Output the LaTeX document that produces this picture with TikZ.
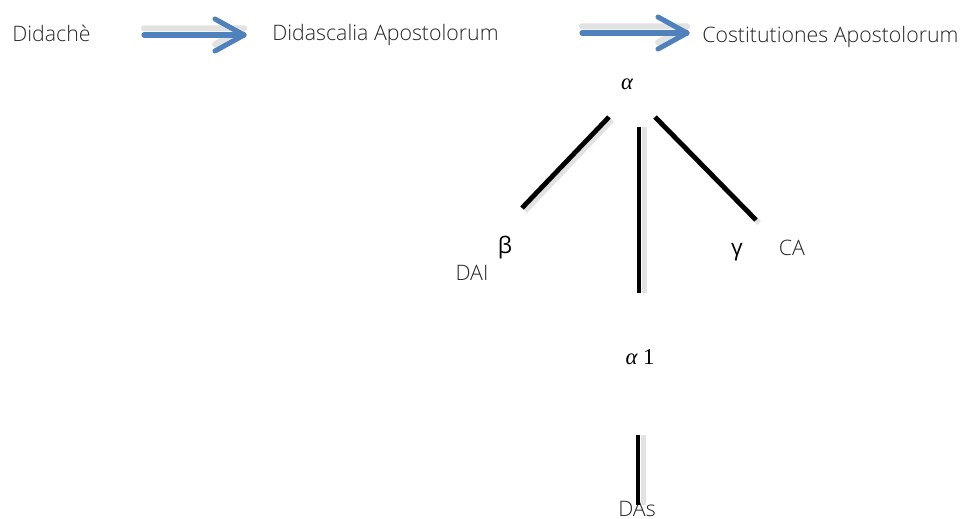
\documentclass[tikz,border=0pt]{standalone}
\usepackage{fontspec}
\setmainfont{Open Sans Light}
\newfontfamily\regfont{Open Sans}
\newfontfamily\serfont{Liberation Serif}
\definecolor{arrblue}{HTML}{4F81BD}
\definecolor{shad}{HTML}{E2E2E2}
\definecolor{txt}{HTML}{262626}
\begin{document}
\begin{tikzpicture}[x=0.75pt,y=-0.75pt,
  lbl/.style={inner sep=0pt,text=txt,font=\fontsize{16}{18}\selectfont},
  greek/.style={inner sep=0pt,font=\serfont\fontsize{17}{19}\selectfont},
  sgreek/.style={inner sep=0pt,font=\regfont\fontsize{17}{19}\selectfont},
  stem/.style={line width=3.6pt,black},
  stemshadow/.style={line width=4pt,shad},
  flow/.style={line width=3.8pt,arrblue,line cap=round,line join=round},
  flowshadow/.style={line width=4.5pt,shad,line cap=round,line join=round}]
\useasboundingbox (0,0) rectangle (960,518);
% texts
\node[lbl,anchor=west] (did) at (12,33) {Didachè};
\node[lbl,anchor=west] (dida) at (272,35) {Didascalia Apostolorum};
\node[lbl,anchor=west] (ca) at (702,37) {Costitutiones Apostolorum};
\node[greek] (alpha) at (627,84) {\itshape α};
\node[sgreek] (beta) at (505,248) {β};
\node[lbl] (dai) at (472,273) {DAI};
\node[sgreek] (gamma) at (737,252) {γ};
\node[lbl] (cat) at (792,248) {CA};
\node[greek] (alpha1) at (640,357) {{\itshape α} 1};
\node[lbl,anchor=north] (das) at (637,501) {DAs};
% arrow coordinates
\coordinate (a1s) at (144,35);
\coordinate (a1e) at (244,35);
\coordinate (a2s) at (582,33);
\coordinate (a2e) at (687,33);
% shadows of arrows
\draw[flowshadow] ([yshift=5]a1s) -- ([yshift=5]a1e) -- ++(-29,16);
\draw[flowshadow] ([yshift=5]a2s) -- ([yshift=5]a2e) -- ++(-29,16);
% arrows
\draw[flow] (a1s) -- (a1e);
\draw[flow] ([shift={(-29,-16)}]a1e) -- (a1e) -- ++(-29,16);
\draw[flow] (a2s) -- (a2e);
\draw[flow] ([shift={(-29,-16)}]a2e) -- (a2e) -- ++(-29,16);
% stems coordinates
\coordinate (l1a) at (609,117);
\coordinate (l1b) at (522,208);
\coordinate (l2a) at (639,127);
\coordinate (l2b) at (639,293);
\coordinate (l3a) at (655,117);
\coordinate (l3b) at (756,220);
\coordinate (l4a) at (638,435);
\coordinate (l4b) at (638,505);
% shadows
\draw[stemshadow] ([xshift=4]l2a) -- ([xshift=4]l2b);
\draw[stemshadow] ([xshift=4]l4a) -- ([xshift=4]l4b);
\draw[stemshadow] ([shift={(3,3)}]l1a) -- ([shift={(3,3)}]l1b);
\draw[stemshadow] ([shift={(3,3)}]l3a) -- ([shift={(3,3)}]l3b);
% stems
\draw[stem] (l1a) -- (l1b);
\draw[stem] (l2a) -- (l2b);
\draw[stem] (l3a) -- (l3b);
\draw[stem] (l4a) -- (l4b);
\end{tikzpicture}
\end{document}
